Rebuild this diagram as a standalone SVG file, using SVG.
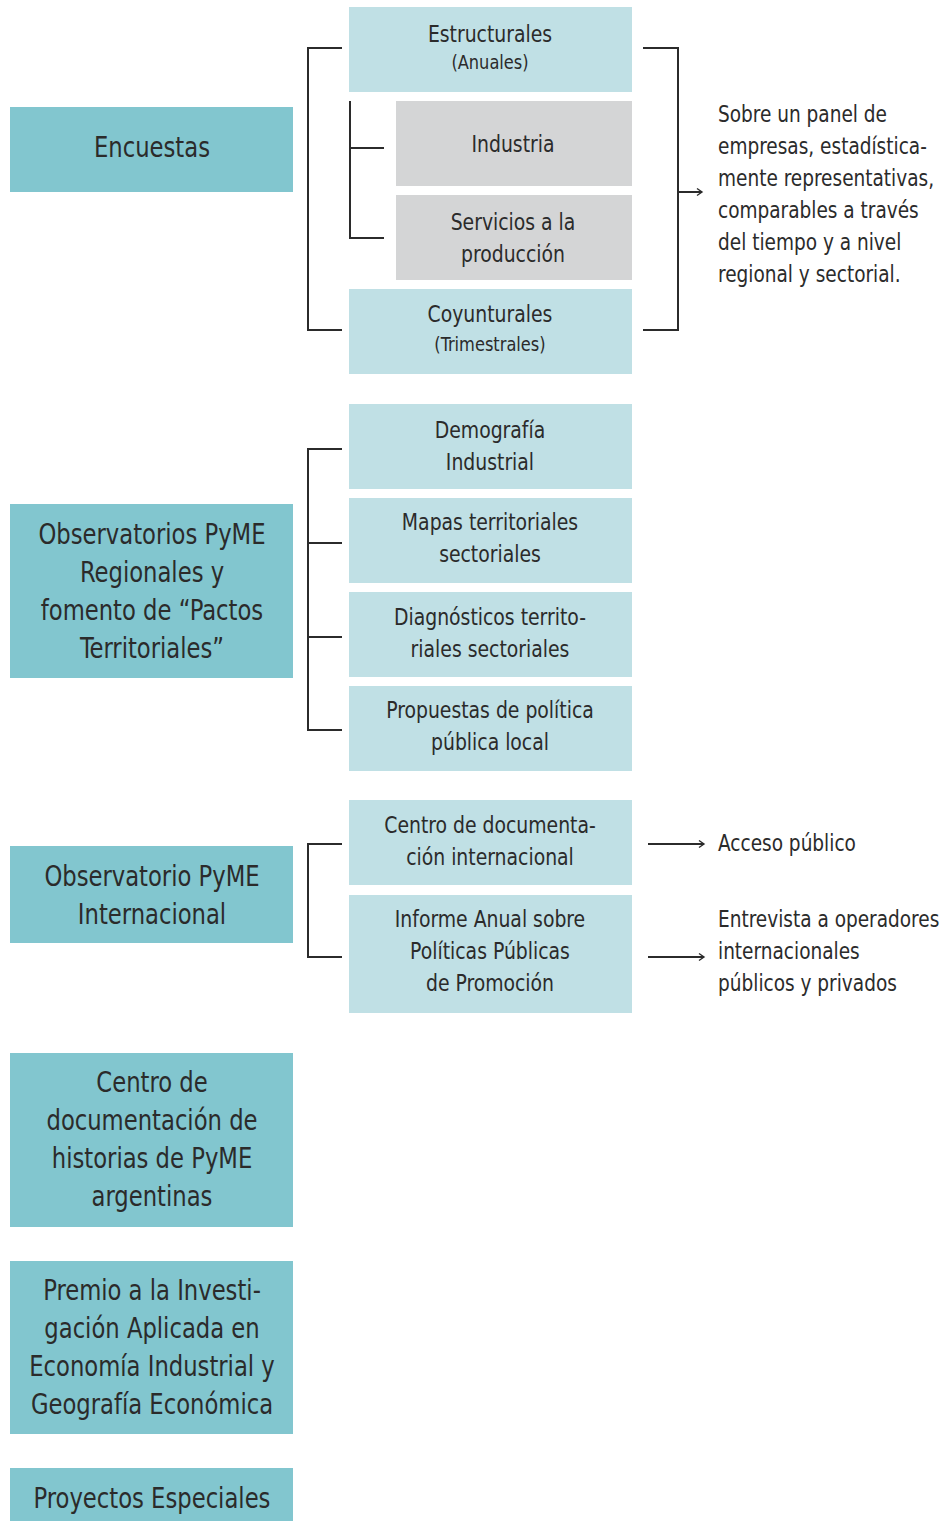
<svg xmlns="http://www.w3.org/2000/svg" width="944" height="1521" viewBox="0 0 944 1521">
<defs>
<marker id="ah" markerWidth="10" markerHeight="10" refX="8" refY="5" orient="auto" markerUnits="userSpaceOnUse">
<path d="M3,1.5 L8,5 L3,8.5" fill="none" stroke="#2b2b2b" stroke-width="1.4"/>
</marker>
<style>
.L{fill:#82C6CF}
.M{fill:#C0E0E5}
.G{fill:#D4D5D6}
text{font-family:"Liberation Sans Narrow","DejaVu Sans Condensed","Liberation Sans",sans-serif;fill:#2b2b2b}
.big{font-size:29px;text-anchor:middle}
.mid{font-size:23px;text-anchor:middle}
.sm{font-size:19px;text-anchor:middle}
.note{font-size:23px}
.ln{fill:none;stroke:#2b2b2b;stroke-width:2}
</style>
</defs>
<rect width="944" height="1521" fill="#fff"/>
<g id="encuestas"><rect class="L" x="10" y="107" width="283" height="85"/><g transform="matrix(0.87,0,0,1,19.76,0)"><text class="big" x="152" y="157">Encuestas</text></g></g>
<g id="estructurales"><rect class="M" x="349" y="7" width="283" height="85"/><g transform="matrix(0.91,0,0,1,44.1,0)"><text class="mid" x="490" y="42">Estructurales</text></g><g transform="matrix(0.95,0,0,1,24.5,0)"><text class="sm" x="490" y="69">(Anuales)</text></g></g>
<g id="industria"><rect class="G" x="396" y="101" width="236" height="85"/><g transform="matrix(0.91,0,0,1,46.17,0)"><text class="mid" x="513" y="152">Industria</text></g></g>
<g id="servicios"><rect class="G" x="396" y="195" width="236" height="85"/><g transform="matrix(0.91,0,0,1,46.17,0)"><text class="mid" x="513" y="230">Servicios a la</text><text class="mid" x="513" y="262">producción</text></g></g>
<g id="coyunturales"><rect class="M" x="349" y="289" width="283" height="85"/><g transform="matrix(0.91,0,0,1,44.1,0)"><text class="mid" x="490" y="322">Coyunturales</text></g><g transform="matrix(0.95,0,0,1,24.5,0)"><text class="sm" x="490" y="351">(Trimestrales)</text></g></g>
<g id="nota-panel"><g transform="matrix(0.895,0,0,1,75.39,0)"><text class="note" x="718" y="122">Sobre un panel de</text><text class="note" x="718" y="154">empresas, estadística-</text><text class="note" x="718" y="186">mente representativas,</text><text class="note" x="718" y="218">comparables a través</text><text class="note" x="718" y="250">del tiempo y a nivel</text><text class="note" x="718" y="282">regional y sectorial.</text></g></g>
<g id="observatorios"><rect class="L" x="10" y="504" width="283" height="174"/><g transform="matrix(0.87,0,0,1,19.76,0)"><text class="big" x="152" y="544">Observatorios PyME</text><text class="big" x="152" y="582">Regionales y</text><text class="big" x="152" y="620">fomento de “Pactos</text><text class="big" x="152" y="658">Territoriales”</text></g></g>
<g id="demografia"><rect class="M" x="349" y="404" width="283" height="85"/><g transform="matrix(0.91,0,0,1,44.1,0)"><text class="mid" x="490" y="438">Demografía</text><text class="mid" x="490" y="470">Industrial</text></g></g>
<g id="mapas"><rect class="M" x="349" y="498" width="283" height="85"/><g transform="matrix(0.91,0,0,1,44.1,0)"><text class="mid" x="490" y="530">Mapas territoriales</text><text class="mid" x="490" y="562">sectoriales</text></g></g>
<g id="diagnosticos"><rect class="M" x="349" y="592" width="283" height="85"/><g transform="matrix(0.91,0,0,1,44.1,0)"><text class="mid" x="490" y="625">Diagnósticos territo-</text><text class="mid" x="490" y="657">riales sectoriales</text></g></g>
<g id="propuestas"><rect class="M" x="349" y="686" width="283" height="85"/><g transform="matrix(0.91,0,0,1,44.1,0)"><text class="mid" x="490" y="718">Propuestas de política</text><text class="mid" x="490" y="750">pública local</text></g></g>
<g id="obs-internacional"><rect class="L" x="10" y="846" width="283" height="97"/><g transform="matrix(0.87,0,0,1,19.76,0)"><text class="big" x="152" y="886">Observatorio PyME</text><text class="big" x="152" y="924">Internacional</text></g></g>
<g id="centro-doc-int"><rect class="M" x="349" y="800" width="283" height="85"/><g transform="matrix(0.91,0,0,1,44.1,0)"><text class="mid" x="490" y="833">Centro de documenta-</text><text class="mid" x="490" y="865">ción internacional</text></g></g>
<g id="informe"><rect class="M" x="349" y="895" width="283" height="118"/><g transform="matrix(0.91,0,0,1,44.1,0)"><text class="mid" x="490" y="927">Informe Anual sobre</text><text class="mid" x="490" y="959">Políticas Públicas</text><text class="mid" x="490" y="991">de Promoción</text></g></g>
<g id="acceso"><g transform="matrix(0.895,0,0,1,75.39,0)"><text class="note" x="718" y="851">Acceso público</text></g></g>
<g id="entrevista"><g transform="matrix(0.895,0,0,1,75.39,0)"><text class="note" x="718" y="927">Entrevista a operadores</text><text class="note" x="718" y="959">internacionales</text><text class="note" x="718" y="991">públicos y privados</text></g></g>
<g id="centro-historias"><rect class="L" x="10" y="1053" width="283" height="174"/><g transform="matrix(0.87,0,0,1,19.76,0)"><text class="big" x="152" y="1092">Centro de</text><text class="big" x="152" y="1130">documentación de</text><text class="big" x="152" y="1168">historias de PyME</text><text class="big" x="152" y="1206">argentinas</text></g></g>
<g id="premio"><rect class="L" x="10" y="1261" width="283" height="173"/><g transform="matrix(0.87,0,0,1,19.76,0)"><text class="big" x="152" y="1300">Premio a la Investi-</text><text class="big" x="152" y="1338">gación Aplicada en</text><text class="big" x="152" y="1376">Economía Industrial y</text><text class="big" x="152" y="1414">Geografía Económica</text></g></g>
<g id="proyectos"><rect class="L" x="10" y="1468" width="283" height="53"/><g transform="matrix(0.87,0,0,1,19.76,0)"><text class="big" x="152" y="1508">Proyectos Especiales</text></g></g>
<g id="connectors">
<path class="ln" d="M342,48 H308 V330 H342"/>
<path class="ln" d="M384,148 H350 V101 M350,148 V238 H384"/>
<path class="ln" d="M643,48 H678 V330 H643"/>
<path class="ln" d="M678,192 H702" marker-end="url(#ah)"/>
<path class="ln" d="M342,449 H308 V730 H342 M308,543 H342 M308,637 H342"/>
<path class="ln" d="M342,844 H308 V957 H342"/>
<path class="ln" d="M648,844 H704" marker-end="url(#ah)"/>
<path class="ln" d="M648,957 H704" marker-end="url(#ah)"/>
</g>
</svg>
